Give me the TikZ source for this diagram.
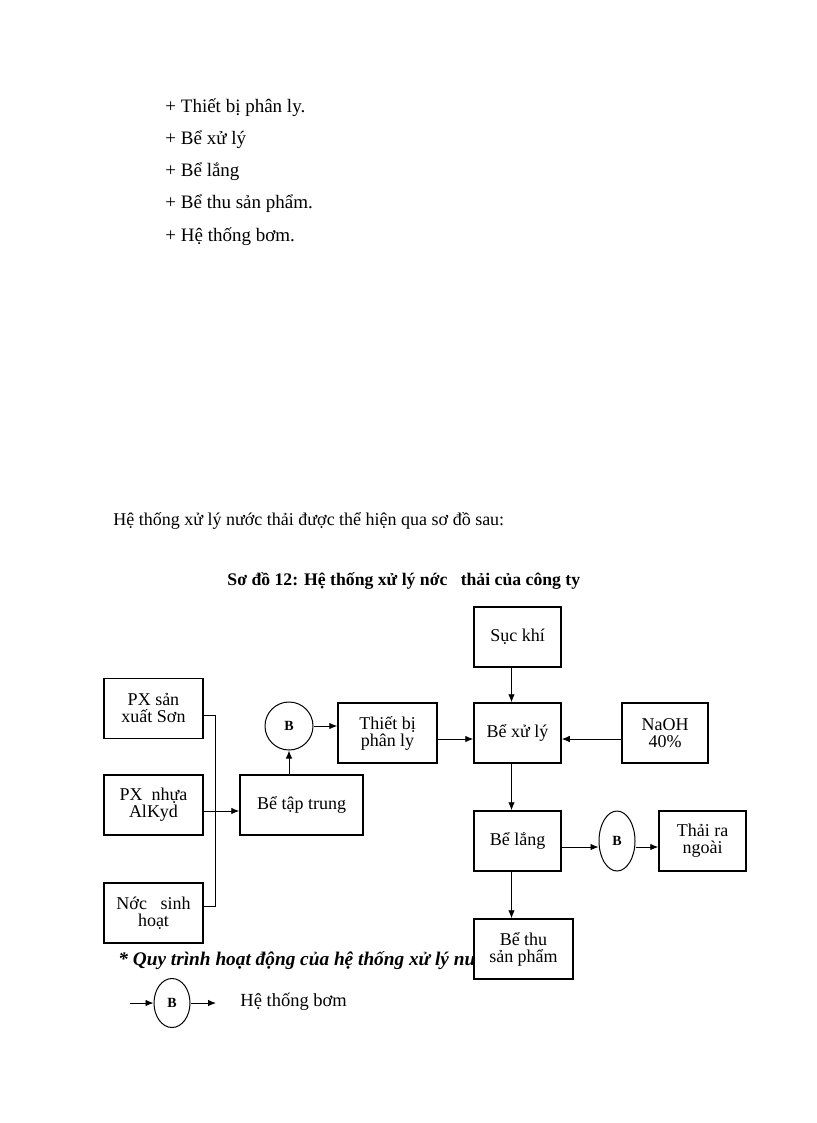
\documentclass[tikz,border=0pt]{standalone}
\usepackage{fontspec}
\setmainfont{Liberation Serif}
\usetikzlibrary{arrows.meta}
\usetikzlibrary{shapes.geometric}
\tikzset{
  every picture/.style={
    line width=0.9pt,
    >={Latex[width=6.5pt, length=8pt]}
  },
  box/.style={
    draw, rectangle, line width=1.5pt,
    minimum width=87pt, minimum height=60pt,
    inner sep=0pt, align=center,
    font=\fontsize{18}{17}\selectfont
  },
  pump/.style={
    draw, ellipse, line width=1pt,
    minimum width=36pt, minimum height=60pt, inner sep=0pt,
    font=\bfseries\fontsize{14}{14}\selectfont
  },
  txt/.style={
    anchor=base west, inner sep=0pt,
    font=\fontsize{19}{20}\selectfont
  }
}
\begin{document}
\begin{tikzpicture}[x=1pt,y=-1pt]
  \useasboundingbox (0,0) rectangle (816,1123);
  % list above the scheme
  \node[txt] (l1) at (165,113) {+ Thiết bị phân ly.};
  \node[txt] (l2) at (165,145) {+ Bể xử lý};
  \node[txt] (l3) at (165,177) {+ Bể lắng};
  \node[txt] (l4) at (165,209) {+ Bể thu sản phẩm.};
  \node[txt] (l5) at (165,241) {+ Hệ thống bơm.};
  \node[txt, font=\fontsize{18}{20}\selectfont] (intro) at (113,525)
    {Hệ thống xử lý nước thải được thể hiện qua sơ đồ sau:};
  \node[txt, font=\bfseries\fontsize{17.7}{20}\selectfont] (title) at (227,585)
    {Sơ đồ 12: Hệ thống xử lý nớc\ \ \ thải của công ty};
  \node[txt, font=\bfseries\itshape\fontsize{19.3}{20}\selectfont] (quy) at (118,965)
    {* Quy trình hoạt động của hệ thống xử lý nư};
  % sources
  \node[box, minimum width=99pt] (pxson) at (153.5,708.5) {PX sản\\xuất Sơn};
  \node[box, minimum width=99pt] (pxnhua) at (153.5,805) {PX\ \ nhựa\\AlKyd};
  \node[box, minimum width=99pt] (nuoc) at (153.5,913) {Nớc\ \ \ sinh\\hoạt};
  \node[box, minimum width=123pt] (taptrung) at (301.5,805) {Bể tập trung};
  \node[pump, minimum width=48pt, minimum height=48pt] (b1) at (289,726) {B};
  \node[box, minimum width=99pt] (phanly) at (387.5,733) {Thiết bị\\phân ly};
  \node[box] (suckhi) at (517.5,637) {Sục khí};
  \node[box] (xuly) at (517.5,733) {Bể xử lý};
  \node[box, minimum width=86pt] (naoh) at (665,733) {NaOH\\40\%};
  \node[box] (lang) at (517.5,841) {Bể lắng};
  \node[pump] (b2) at (617,841) {B};
  \node[box] (thai) at (702.5,841) {Thải ra\\ngoài};
  \node[box, minimum width=99pt, fill=white] (thu) at (523.5,949) {Bể thu\\sản phẩm};
  % legend
  \node[pump, minimum height=49pt] (b3) at (172,1003) {B};
  \coordinate (legin) at (130,1003);
  \coordinate (legout) at (216,1003);
  \node[txt, font=\fontsize{18.5}{20}\selectfont] (legtxt) at (240,1006) {Hệ thống bơm};
  % connectors
  \coordinate (bustop) at (215,715);
  \coordinate (busbot) at (215,906);
  \coordinate (langout) at ([xshift=-6pt]lang.south);
  \draw (pxson.east |- bustop) -- (bustop) -- (busbot) -- (nuoc.east |- busbot);
  \draw[->] ([yshift=-6pt]pxnhua.east) -- ([yshift=-6pt]taptrung.west);
  \draw[->] (taptrung.north -| b1) -- (b1.south);
  \draw[->] (b1.east) -- (phanly.west |- b1);
  \draw[->] ([yshift=-6pt]phanly.east) -- ([yshift=-6pt]xuly.west);
  \draw[->] ([yshift=-6pt]naoh.west) -- ([yshift=-6pt]xuly.east);
  \draw[->] ([xshift=-6pt]suckhi.south) -- ([xshift=-6pt]xuly.north);
  \draw[->] ([xshift=-6pt]xuly.south) -- ([xshift=-6pt]lang.north);
  \draw[->] (langout) -- (thu.north -| langout);
  \draw[->] ([yshift=-6pt]lang.east) -- ([yshift=-6pt]b2.west);
  \draw[->] ([yshift=-6pt]b2.east) -- ([yshift=-6pt]thai.west);
  \draw[->] (legin) -- (b3.west);
  \draw[->] (b3.east) -- (legout);
\end{tikzpicture}
\end{document}
